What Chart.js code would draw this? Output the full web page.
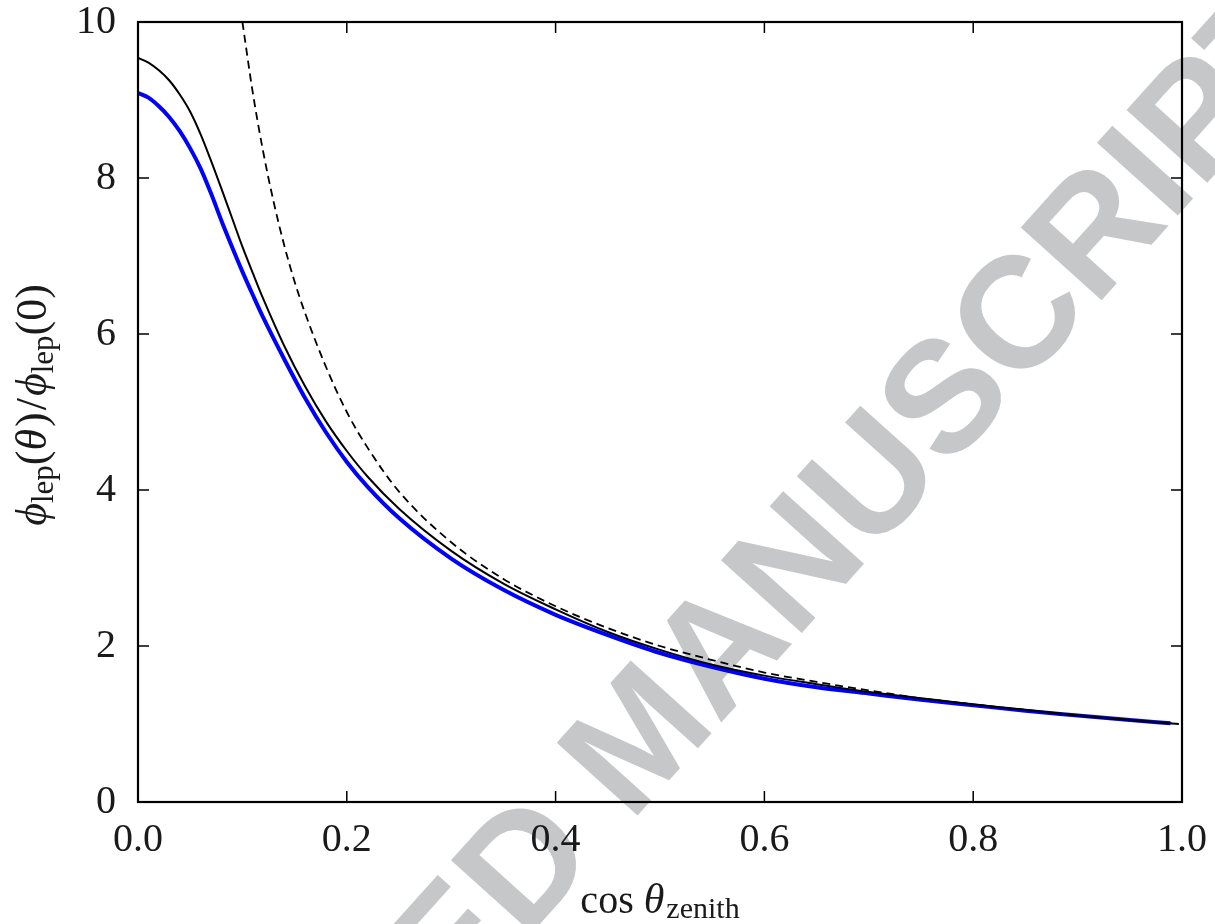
<!DOCTYPE html>
<html>
<head>
<meta charset="utf-8">
<script src="https://cdn.jsdelivr.net/npm/chart.js@4.4.0/dist/chart.umd.min.js"></script>
<style>
  html, body { margin: 0; padding: 0; background: #fff; }
  #wrap { width: 1215px; height: 924px; }
</style>
</head>
<body>
<div id="wrap"><canvas id="chart" width="1215" height="924"></canvas></div>
<script>
// Values
const blueCos = [0, 0.01, 0.02, 0.03, 0.04, 0.05, 0.06, 0.07, 0.08, 0.09, 0.10, 0.11, 0.12, 0.14, 0.16, 0.18, 0.20, 0.22, 0.25, 0.30, 0.35, 0.40, 0.45, 0.50, 0.55, 0.60, 0.65, 0.70, 0.75, 0.80, 0.85, 0.90, 0.95, 0.989];
const blueRatio = [9.09, 9.03, 8.92, 8.78, 8.60, 8.38, 8.12, 7.80, 7.45, 7.12, 6.80, 6.50, 6.21, 5.68, 5.18, 4.74, 4.36, 4.04, 3.64, 3.12, 2.72, 2.40, 2.14, 1.91, 1.73, 1.58, 1.47, 1.39, 1.31, 1.24, 1.17, 1.11, 1.05, 1.01];

const blackCos = [0, 0.01, 0.02, 0.03, 0.04, 0.05, 0.06, 0.07, 0.08, 0.09, 0.10, 0.11, 0.12, 0.14, 0.16, 0.18, 0.20, 0.22, 0.25, 0.30, 0.35, 0.40, 0.45, 0.50, 0.55, 0.60, 0.65, 0.70, 0.75, 0.80, 0.85, 0.90, 0.95, 0.997];
const blackRatio = [9.54, 9.48, 9.38, 9.25, 9.07, 8.85, 8.56, 8.22, 7.86, 7.49, 7.12, 6.78, 6.45, 5.85, 5.33, 4.88, 4.50, 4.17, 3.76, 3.22, 2.80, 2.47, 2.18, 1.95, 1.76, 1.62, 1.51, 1.41, 1.33, 1.25, 1.18, 1.11, 1.05, 1.00];

const dashedCos = [0.10, 0.11, 0.12, 0.13, 0.14, 0.15, 0.16, 0.18, 0.20, 0.22, 0.25, 0.30, 0.35, 0.40, 0.45, 0.50, 0.55, 0.60, 0.65, 0.70, 0.75, 0.80, 0.85, 0.90, 0.95, 0.99];
const dashedRatio = [10.0, 9.09, 8.33, 7.69, 7.14, 6.67, 6.27, 5.58, 5.00, 4.54, 3.98, 3.33, 2.86, 2.51, 2.23, 2.00, 1.82, 1.66, 1.54, 1.43, 1.33, 1.25, 1.18, 1.11, 1.05, 1.01];

const xTicks = [0, 0.2, 0.4, 0.6, 0.8, 1.0];
const yTicks = [0, 2, 4, 6, 8, 10];

const SERIF = '"Liberation Serif", "DejaVu Serif", serif';

function toPoints(xs, ys) {
    return xs.map((x, i) => ({ x: x, y: ys[i] }));
}

// draw a row of text pieces with different fonts / offsets
function drawRuns(ctx, runs, cx, baseY) {
    let total = 0;
    runs.forEach(r => { ctx.font = r.font; r.w = ctx.measureText(r.text).width; total += r.w + (r.gap || 0); });
    let x = cx - total / 2;
    runs.forEach(r => {
        ctx.font = r.font;
        ctx.fillText(r.text, x, baseY + (r.dy || 0));
        x += r.w + (r.gap || 0);
    });
}

// grey watermark behind everything
const watermark = {
    id: 'watermark',
    beforeDraw(chart) {
        const ctx = chart.ctx;
        ctx.save();
        ctx.translate(645, 742);
        ctx.rotate(-48 * Math.PI / 180);
        ctx.fillStyle = '#c6c7c9';
        ctx.font = 'bold 158px "Liberation Sans", Arial, sans-serif';
        ctx.textAlign = 'center';
        ctx.textBaseline = 'middle';
        ctx.fillText('ACCEPTED MANUSCRIPT', 0, 0);
        ctx.restore();
    }
};

// box around plot with inward ticks on all four sides
const frameTicks = {
    id: 'frameTicks',
    afterDatasetsDraw(chart) {
        const { ctx, chartArea: a, scales } = chart;
        const x = scales.x, y = scales.y;
        const len = 11;
        ctx.save();
        ctx.strokeStyle = '#000';
        ctx.lineWidth = 1.5;
        ctx.beginPath();
        x.ticks.forEach(t => {
            const px = x.getPixelForValue(t.value);
            ctx.moveTo(px, a.bottom); ctx.lineTo(px, a.bottom - len);
            ctx.moveTo(px, a.top); ctx.lineTo(px, a.top + len);
        });
        y.ticks.forEach(t => {
            const py = y.getPixelForValue(t.value);
            ctx.moveTo(a.left, py); ctx.lineTo(a.left + len, py);
            ctx.moveTo(a.right, py); ctx.lineTo(a.right - len, py);
        });
        ctx.stroke();
        ctx.lineWidth = 2.2;
        ctx.strokeRect(a.left, a.top, a.right - a.left, a.bottom - a.top);
        ctx.restore();
    }
};

// axis titles with math-style italics and subscripts
const axisTitles = {
    id: 'axisTitles',
    afterDraw(chart) {
        const { ctx, chartArea: a } = chart;
        ctx.save();
        ctx.fillStyle = '#1a1a1a';
        ctx.textAlign = 'left';
        ctx.textBaseline = 'alphabetic';

        const cx = (a.left + a.right) / 2;
        drawRuns(ctx, [
            { text: 'cos', font: '40px ' + SERIF, gap: 10 },
            { text: 'θ', font: 'italic 42px ' + SERIF, gap: 2 },
            { text: 'zenith', font: '30px ' + SERIF, dy: 5 }
        ], cx, 913);

        ctx.translate(46, 405);
        ctx.rotate(-Math.PI / 2);
        drawRuns(ctx, [
            { text: 'ϕ', font: 'italic 44px ' + SERIF },
            { text: 'lep', font: '31px ' + SERIF, dy: 7 },
            { text: '(', font: '44px ' + SERIF },
            { text: 'θ', font: 'italic 44px ' + SERIF, gap: 2 },
            { text: ')', font: '44px ' + SERIF, gap: 2 },
            { text: '/', font: '44px ' + SERIF, gap: 2 },
            { text: 'ϕ', font: 'italic 44px ' + SERIF },
            { text: 'lep', font: '31px ' + SERIF, dy: 7 },
            { text: '(0)', font: '44px ' + SERIF }
        ], 0, 0);
        ctx.restore();
    }
};

const ctx = document.getElementById('chart').getContext('2d');
new Chart(ctx, {
    type: 'line',
    data: {
        datasets: [
            {
                label: 'dashed',
                data: toPoints(dashedCos, dashedRatio),
                borderColor: '#000',
                borderWidth: 1.8,
                borderDash: [8, 5],
                pointRadius: 0,
                cubicInterpolationMode: 'monotone'
            },
            {
                label: 'black',
                data: toPoints(blackCos, blackRatio),
                borderColor: '#000',
                borderWidth: 2,
                pointRadius: 0,
                cubicInterpolationMode: 'monotone'
            },
            {
                label: 'blue',
                data: toPoints(blueCos, blueRatio),
                borderColor: '#0000ff',
                borderWidth: 4,
                pointRadius: 0,
                cubicInterpolationMode: 'monotone'
            }
        ]
    },
    options: {
        responsive: false,
        animation: false,
        layout: { padding: { top: 22, right: 33, left: 0, bottom: 0 } },
        plugins: {
            legend: { display: false },
            tooltip: { enabled: false }
        },
        scales: {
            x: {
                type: 'linear',
                min: 0,
                max: 1,
                afterBuildTicks: scale => { scale.ticks = xTicks.map(v => ({ value: v })); },
                afterFit: scale => { scale.height = 122; scale.paddingLeft = 0; scale.paddingRight = 0; },
                grid: { display: false },
                border: { display: false },
                ticks: {
                    padding: 6,
                    color: '#1a1a1a',
                    font: { family: SERIF, size: 40 },
                    callback: v => v.toFixed(1)
                }
            },
            y: {
                type: 'linear',
                min: 0,
                max: 10,
                afterBuildTicks: scale => { scale.ticks = yTicks.map(v => ({ value: v })); },
                afterFit: scale => { scale.width = 138; scale.paddingTop = 0; scale.paddingBottom = 0; },
                grid: { display: false },
                border: { display: false },
                ticks: {
                    padding: 14,
                    color: '#1a1a1a',
                    font: { family: SERIF, size: 40 }
                }
            }
        }
    },
    plugins: [watermark, frameTicks, axisTitles]
});
</script>
</body>
</html>
